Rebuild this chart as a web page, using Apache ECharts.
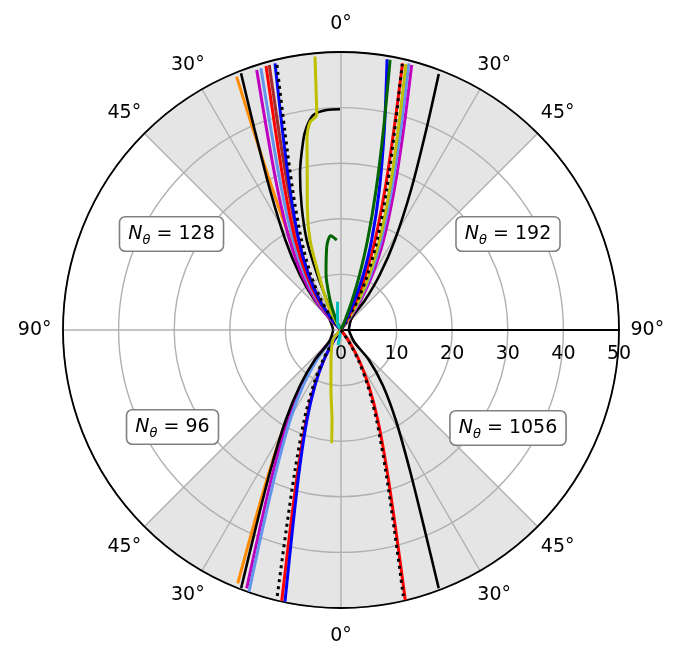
<!DOCTYPE html>
<html>
<head>
<meta charset="utf-8">
<script src="https://cdn.jsdelivr.net/npm/echarts@6/dist/echarts.min.js"></script>
<style>
  html, body { margin: 0; padding: 0; background: #fff; }
  #main { width: 681px; height: 663px; }
</style>
</head>
<body>
<div id="main"></div>
<script>
// Points are [radius, angle]; angle in degrees from the vertical (0 = top),
// positive clockwise, negative to the left.

// tick labels / annotations
const radiusTicks = [0, 10, 20, 30, 40, 50];
const gridAngles = [0, 30, 45, 90, 135, 150, 180, -150, -135, -90, -45, -30];
const shadedWedges = [[-45, 45], [135, 225]];
const boxLabels = ['128', '192', '96', '1056'];

// upper left, N_theta = 128
const q128Orange = [[0, 0], [2.79, -39.2], [6.69, -36.25], [11.76, -32.76], [18.55, -29.25], [28.0, -25.97], [39.28, -23.68], [49.28, -22.4]];
const q128Black = [[1.4, -88], [3.07, -45.4], [7.2, -41.5], [12.35, -36.75], [19.03, -31.73], [28.23, -26.88], [39.18, -23.34], [49.55, -21.28]];
const q128Magenta = [[0, 0], [3.04, -44.8], [7.1, -40.5], [12.13, -35.3], [18.64, -29.74], [27.63, -24.33], [38.37, -20.38], [49.16, -17.96]];
const q128LightBlue = [[0, 0], [2.93, -42.6], [6.88, -38.4], [11.84, -33.35], [18.34, -28.04], [27.34, -22.95], [38.11, -19.29], [49.22, -17.02]];
const q128Red = [[0, 0], [2.88, -41.45], [6.77, -37.2], [11.68, -32.14], [18.14, -26.85], [27.12, -21.8], [37.86, -18.16], [49.36, -15.85]];
const q128Brown = [[0, 0], [2.79, -39.2], [6.59, -35.1], [11.46, -30.28], [17.91, -25.32], [26.9, -20.63], [37.68, -17.3], [49.38, -15.15]];
const q128Blue = [[0, 0], [2.82, -40.1], [6.65, -35.75], [11.49, -30.57], [17.88, -25.15], [26.8, -20.0], [37.48, -16.33], [49.41, -13.9]];
const q128Dotted = [[0, 0], [2.73, -37.7], [6.47, -33.55], [11.28, -28.7], [17.68, -23.72], [26.64, -19.04], [37.37, -15.72], [49.03, -13.59]];
const q128Yellow = [[0, 0], [2, -31], [5.07, -27.5], [10.99, -21.8], [17.1, -19.0], [23.0, -15.3], [29, -12.1], [34.7, -10.15], [37.8, -8.48], [38.9, -6.45], [44, -5.87], [49.4, -5.43]];
const q128Curl = [[0, 0], [2.76, -30], [5.98, -25.5], [11.14, -23.1], [17.32, -20.86], [23.28, -17.68], [29.18, -14.63], [34.84, -11.22], [37.08, -9.58], [38.99, -7.34], [39.65, -3.72], [39.7, -0.26]];
const q128Green = [[0, 0], [2.63, -24.3], [5.75, -20.1], [10.55, -14.8], [15.2, -9.7], [17.06, -6.2], [16.2, -2.7]];
const q128Cyan = [[0, 0], [1.41, -26.6], [3.0, -12.1], [5.13, -7.05]];

// upper right, N_theta = 192
const q192Black = [[1.4, 88], [2.89, 41.7], [6.92, 38.8], [12.09, 35.1], [18.87, 30.9], [28.15, 26.57], [39.1, 23.07], [49.29, 20.9]];
const q192Magenta = [[0, 0], [2.69, 36.6], [6.47, 33.4], [11.38, 29.6], [17.9, 25.3], [26.94, 20.8], [37.7, 17.35], [49.33, 14.93]];
const q192LightBlue = [[0, 0], [2.63, 34.9], [6.35, 31.8], [11.22, 28.2], [17.73, 24.07], [26.77, 19.87], [37.53, 16.6], [49.49, 14.26]];
const q192Yellow = [[0, 0], [2.6, 33.9], [6.28, 30.8], [11.12, 27.2], [17.61, 23.2], [26.65, 19.15], [37.41, 15.95], [49.25, 13.72]];
const q192Red = [[0, 0], [2.49, 29.8], [6.07, 27.2], [10.84, 24.1], [17.31, 20.75], [26.39, 17.41], [37.21, 14.82], [49.23, 13.0]];
const q192Dotted = [[0, 0], [2.55, 32.1], [6.18, 29.2], [10.98, 25.7], [17.45, 21.9], [26.48, 18.04], [37.25, 15.03], [49.09, 12.96]];
const q192Blue = [[0, 0], [2.42, 26.8], [5.93, 24.5], [10.67, 22.0], [17.1, 18.83], [26.1, 15.3], [36.8, 12.22], [49.39, 9.66]];
const q192Green = [[0, 0], [2.33, 22.0], [5.76, 20.5], [10.44, 18.6], [16.88, 16.45], [25.96, 14.05], [36.77, 11.98], [49.36, 10.3]];

// lower left, N_theta = 96
const q96Orange = [[0, 0], [2.98, -136.5], [7.04, -140.1], [12.18, -144.3], [18.93, -148.75], [28.25, -153.04], [39.34, -156.1], [49.2, -157.82]];
const q96Black = [[1.4, -92], [3.06, -134.9], [7.17, -138.8], [12.31, -143.5], [18.99, -148.46], [28.19, -153.28], [39.14, -156.78], [49.75, -158.85]];
const q96Magenta = [[0, 0], [3.02, -135.6], [7.09, -139.6], [12.17, -144.36], [18.8, -149.4], [27.94, -154.3], [38.84, -157.83], [49.46, -159.94]];
const q96LightBlue = [[0, 0], [2.95, -137.1], [6.94, -141.0], [11.98, -145.64], [18.59, -150.53], [27.74, -155.2], [38.66, -158.52], [49.89, -160.63]];
const q96Dotted = [[0, 0], [2.63, -145.2], [6.29, -149.04], [11.06, -153.4], [17.49, -157.76], [26.5, -161.83], [37.3, -164.68], [49.92, -166.61]];
const q96Red = [[0, 0], [2.59, -146.4], [6.22, -150.2], [10.96, -154.5], [17.35, -158.9], [26.35, -162.91], [37.12, -165.73], [49.89, -167.66]];
const q96Blue = [[0, 0], [2.59, -146.34], [6.21, -150.28], [10.94, -154.75], [17.31, -159.27], [26.27, -163.43], [37.02, -166.35], [49.89, -168.35]];
const q96Yellow = [[0, 0], [2.3, -141.3], [5.69, -161.6], [10.94, -170.5], [16.27, -174.3], [20.45, -175.3]];
const q96Cyan = [[0, 0], [2.75, -168.7]];

// lower right, N_theta = 1056
const q1056Black = [[1.4, 92], [3.22, 132.04], [7.37, 137.07], [12.41, 142.85], [18.95, 148.68], [28.06, 153.83], [39.0, 157.29], [49.67, 159.28]];
const q1056Red = [[0, 0], [2.63, 145.2], [6.29, 149.04], [11.06, 153.4], [17.49, 157.76], [26.5, 161.83], [37.3, 164.68], [49.92, 166.61]];
const q1056Dotted = [[0, 0], [2.59, 146.34], [6.23, 150.04], [10.98, 154.23], [17.4, 158.45], [26.42, 162.34], [37.23, 165.06], [49.14, 166.82]];

const FONT = 'DejaVu Sans';
const toAxis = a => (a < 90 ? a + 360 : a);
const degLabel = a => {
    const b = Math.abs(a);
    return (b <= 90 ? b : 180 - b) + '°';
};

const COLORS = {
    orange: '#ff8c00', black: '#000000', magenta: '#bf00bf', lightBlue: '#6495ed',
    red: '#ff0000', brown: '#a52a2a', blue: '#0000ff', yellow: '#bfbf00',
    green: '#006400', cyan: '#00bfbf'
};

function curve(data, color, width, dotted) {
    return {
        type: 'line',
        coordinateSystem: 'polar',
        data: data.map(p => [p[0], toAxis(p[1])]),
        symbol: 'none',
        smooth: 0.3,
        silent: true,
        z: 3,
        lineStyle: { color: color, width: width, type: dotted ? [3, 4] : 'solid' }
    };
}

const chart = echarts.init(document.getElementById('main'));

const curves = [
    curve(q128Orange, COLORS.orange, 3),
    curve(q128Black, COLORS.black, 2.6),
    curve(q128Magenta, COLORS.magenta, 3),
    curve(q128LightBlue, COLORS.lightBlue, 3),
    curve(q128Red, COLORS.red, 3),
    curve(q128Brown, COLORS.brown, 3),
    curve(q128Blue, COLORS.blue, 3),
    curve(q128Dotted, COLORS.black, 3, true),
    curve(q128Curl, COLORS.black, 2.6),
    curve(q128Yellow, COLORS.yellow, 3),
    curve(q128Green, COLORS.green, 3),
    curve(q128Cyan, COLORS.cyan, 3),

    curve(q192Black, COLORS.black, 2.6),
    curve(q192Magenta, COLORS.magenta, 3),
    curve(q192LightBlue, COLORS.lightBlue, 3),
    curve(q192Yellow, COLORS.yellow, 3),
    curve(q192Red, COLORS.red, 3),
    curve(q192Dotted, COLORS.black, 3, true),
    curve(q192Blue, COLORS.blue, 3),
    curve(q192Green, COLORS.green, 3),

    curve(q96Orange, COLORS.orange, 3),
    curve(q96Magenta, COLORS.magenta, 3),
    curve(q96LightBlue, COLORS.lightBlue, 3),
    curve(q96Black, COLORS.black, 2.6),
    curve(q96Red, COLORS.red, 3),
    curve(q96Blue, COLORS.blue, 3),
    curve(q96Dotted, COLORS.black, 3, true),
    curve(q96Yellow, COLORS.yellow, 3),
    curve(q96Cyan, COLORS.cyan, 3),

    curve(q1056Black, COLORS.black, 2.6),
    curve(q1056Red, COLORS.red, 3),
    curve(q1056Dotted, COLORS.black, 3, true)
];

const boxPos = [[171.5, 234], [508, 234], [172.5, 427], [508, 428]];
const rich = {
    i: { fontFamily: FONT, fontSize: 19, fontStyle: 'italic', lineHeight: 26, verticalAlign: 'middle' },
    s: { fontFamily: FONT, fontSize: 13, fontStyle: 'italic', lineHeight: 26, verticalAlign: 'bottom' },
    n: { fontFamily: FONT, fontSize: 19, lineHeight: 26, verticalAlign: 'middle' }
};

const option = {
    backgroundColor: '#fff',
    animation: false,
    polar: { center: [341, 330], radius: 278 },
    angleAxis: {
        type: 'value', min: 90, max: 450, startAngle: 0, clockwise: true,
        axisLine: { lineStyle: { color: '#000', width: 1.8 } },
        axisTick: { show: false },
        axisLabel: { show: false },
        splitLine: { show: false }
    },
    radiusAxis: {
        type: 'value', min: radiusTicks[0], max: radiusTicks[radiusTicks.length - 1], interval: 10,
        axisLine: { lineStyle: { color: '#000', width: 2 } },
        axisTick: { show: false },
        axisLabel: { fontFamily: FONT, fontSize: 19, color: '#000', margin: -15, verticalAlign: 'top' },
        splitLine: { lineStyle: { color: '#b0b0b0', width: 1.4 } }
    },
    graphic: boxLabels.map((t, i) => ({
        type: 'text', x: boxPos[i][0], y: boxPos[i][1], z: 20,
        style: {
            text: '{i|N}{s|θ}{n| = ' + t + '}', rich: rich,
            align: 'center', verticalAlign: 'middle',
            backgroundColor: '#fff', borderColor: '#808080', borderWidth: 1.6,
            borderRadius: 5, padding: [4, 8, 3, 8]
        }
    })),
    series: [
        {
            type: 'custom', coordinateSystem: 'polar', silent: true, z: -2, clip: false,
            data: shadedWedges.map(w => [toAxis(w[0]), toAxis(w[1])]),
            renderItem: (params, api) => {
                const a0 = api.value(0), a1 = api.value(1);
                const pts = [api.coord([0, a0])];
                for (let a = a0; a <= a1; a += 1) pts.push(api.coord([50, a]));
                return { type: 'polygon', shape: { points: pts }, style: { fill: '#e5e5e5' } };
            }
        },
        {
            type: 'custom', coordinateSystem: 'polar', silent: true, z: -1, clip: false,
            data: gridAngles.map(a => [50, toAxis(a)]),
            renderItem: (params, api) => {
                const p0 = api.coord([0, api.value(1)]);
                const p1 = api.coord([api.value(0), api.value(1)]);
                return {
                    type: 'line', shape: { x1: p0[0], y1: p0[1], x2: p1[0], y2: p1[1] },
                    style: { stroke: '#b0b0b0', lineWidth: 1.4 }
                };
            }
        },
        {
            type: 'custom', coordinateSystem: 'polar', silent: true, z: 5, clip: false,
            data: gridAngles.map(a => [55.1, toAxis(a)]),
            renderItem: (params, api) => {
                const p = api.coord([api.value(0), api.value(1)]);
                return {
                    type: 'text', x: p[0], y: p[1],
                    style: {
                        text: degLabel(gridAngles[params.dataIndex]),
                        fontFamily: FONT, fontSize: 19, fill: '#000',
                        align: 'center', verticalAlign: 'middle'
                    }
                };
            }
        }
    ].concat(curves)
};

chart.setOption(option);
</script>
</body>
</html>
